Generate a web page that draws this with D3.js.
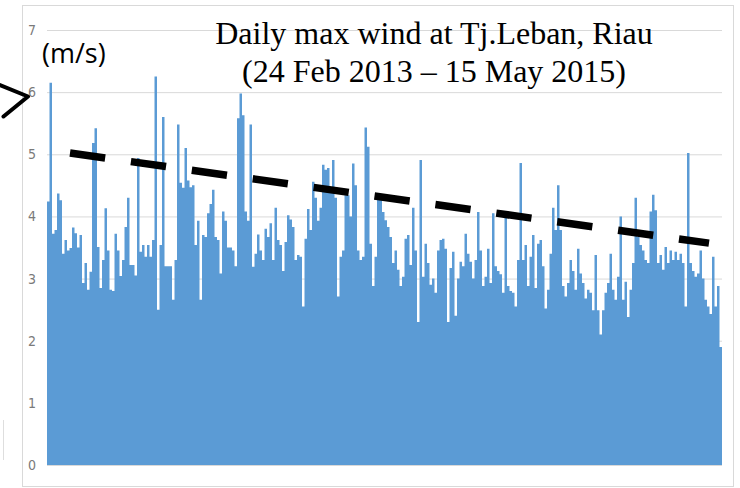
<!DOCTYPE html>
<html>
<head>
<meta charset="utf-8">
<script src="https://cdn.jsdelivr.net/npm/d3@7/dist/d3.min.js"></script>
<style>
  html, body { margin: 0; padding: 0; background: #ffffff; }
  svg { display: block; }
</style>
</head>
<body>
<svg id="chart" width="740" height="488"></svg>
<script>
// Daily max wind (m/s), one value per ~3 days
const windValues = [
  4.24, 6.15, 3.72, 3.78, 4.37, 4.26, 3.40, 3.62, 3.45, 3.49,
  3.82, 3.73, 3.50, 3.70, 2.93, 3.25, 2.82, 3.11, 5.18, 5.42,
  3.51, 2.85, 3.30, 4.13, 3.45, 2.82, 2.80, 3.72, 3.45, 3.04,
  3.30, 3.83, 4.30, 3.22, 3.22, 3.05, 4.94, 3.43, 3.54, 3.35,
  3.54, 3.35, 3.62, 6.25, 2.50, 3.54, 5.60, 3.20, 3.20, 3.20,
  2.66, 3.30, 5.48, 4.54, 4.46, 5.10, 4.58, 4.47, 4.50, 3.54,
  3.93, 2.66, 3.70, 3.67, 4.05, 4.20, 4.43, 3.67, 3.62, 3.08,
  4.08, 3.93, 3.50, 3.50, 3.45, 3.20, 5.58, 5.98, 5.63, 4.08,
  3.93, 5.48, 3.19, 3.40, 3.71, 3.45, 3.30, 3.80, 3.67, 3.89,
  3.30, 4.14, 3.62, 3.54, 3.12, 3.59, 4.02, 3.95, 3.83, 3.30,
  3.38, 3.35, 2.55, 3.64, 4.12, 3.78, 4.56, 4.30, 3.93, 4.14,
  4.83, 4.75, 4.78, 4.47, 4.91, 4.30, 2.71, 3.35, 3.45, 4.34,
  4.34, 4.00, 4.85, 4.50, 3.45, 3.30, 3.35, 5.43, 5.12, 3.56,
  2.88, 3.35, 4.34, 4.31, 4.07, 3.94, 3.83, 3.67, 3.25, 3.45,
  3.14, 2.88, 3.03, 3.64, 3.70, 3.22, 4.14, 3.45, 2.30, 4.91,
  3.03, 3.56, 3.25, 2.90, 3.00, 2.77, 3.45, 3.62, 3.64, 3.48,
  2.30, 3.17, 3.43, 2.40, 3.00, 3.27, 3.20, 3.72, 3.40, 3.27,
  3.00, 3.30, 4.07, 3.45, 2.88, 3.03, 3.48, 2.93, 4.05, 3.20,
  3.12, 3.07, 2.77, 4.00, 2.88, 2.80, 2.77, 2.55, 3.30, 4.86,
  3.30, 3.54, 2.88, 3.35, 3.70, 2.85, 3.56, 3.62, 3.20, 2.52,
  2.82, 3.40, 4.14, 3.78, 4.50, 3.78, 2.88, 2.71, 2.93, 3.30,
  3.12, 2.82, 3.48, 3.08, 2.93, 2.68, 2.82, 2.77, 2.49, 3.38,
  2.49, 2.10, 2.49, 2.77, 2.93, 3.40, 2.82, 2.66, 3.03, 4.00,
  2.66, 2.95, 2.38, 2.82, 3.25, 4.30, 3.67, 3.54, 3.45, 3.30,
  3.25, 4.08, 4.35, 4.10, 3.25, 3.38, 3.14, 3.51, 3.25, 3.45,
  3.30, 3.43, 3.30, 3.40, 3.25, 2.55, 5.02, 3.25, 3.12, 3.03,
  3.08, 3.45, 3.00, 2.66, 2.55, 2.43, 3.35, 2.55, 2.88, 1.90
];
const yTickValues = [0, 1, 2, 3, 4, 5, 6, 7];
// Hand-drawn trend line: positions along the series and wind values at its ends
const trendIndex = [9.2, 264.8];
const trendValue = [5.02, 3.57];
const titleLines = ["Daily max wind at Tj.Leban, Riau", "(24 Feb 2013 \u2013 15 May 2015)"];
const unitLabel = "(m/s)";

const svg = d3.select("#chart");

// outer chart frame
svg.append("rect")
  .attr("x", 22.5).attr("y", 5.5).attr("width", 711).attr("height", 481)
  .attr("fill", "#ffffff").attr("stroke", "#d9d9d9").attr("stroke-width", 1);

// faint mark at left edge
svg.append("line")
  .attr("x1", 3.5).attr("x2", 3.5).attr("y1", 420).attr("y2", 460)
  .attr("stroke", "#dedede").attr("stroke-width", 1);

const x = d3.scaleLinear().domain([0, windValues.length]).range([47, 722]);
const y = d3.scaleLinear().domain([0, 7]).range([465, 30]);

// gridlines
const grid = svg.append("g")
  .attr("transform", "translate(47,0)")
  .call(d3.axisLeft(y).tickValues(yTickValues).tickSize(-675).tickFormat(""));
grid.select(".domain").remove();
grid.selectAll(".tick line").attr("stroke", "#d9d9d9").attr("stroke-width", 1);

// tick labels
const axis = svg.append("g")
  .attr("transform", "translate(47,0)")
  .call(d3.axisLeft(y).tickValues(yTickValues).tickSize(0).tickPadding(11).tickFormat(d3.format("d")));
axis.select(".domain").remove();
axis.selectAll(".tick text")
  .attr("fill", "#7a7a7a")
  .style("font-family", "'Liberation Sans Narrow', 'DejaVu Sans Condensed', 'Liberation Sans', sans-serif")
  .style("font-size", "14px")
  .style("font-stretch", "condensed");

// area (daily columns)
const pts = windValues.map((v, i) => [i, v]);
pts.push([windValues.length, windValues[windValues.length - 1]]);
const area = d3.area()
  .x(d => x(d[0]))
  .y0(y(0))
  .y1(d => y(d[1]))
  .curve(d3.curveStepAfter);
svg.append("path")
  .datum(pts)
  .attr("d", area)
  .attr("fill", "#5b9bd5");

// dashed trend line
svg.append("line")
  .attr("x1", x(trendIndex[0])).attr("y1", y(trendValue[0]))
  .attr("x2", x(trendIndex[1])).attr("y2", y(trendValue[1]))
  .attr("stroke", "#000000").attr("stroke-width", 7.5)
  .attr("stroke-dasharray", "35.5,26");

// title
svg.append("text")
  .attr("x", 434).attr("y", 44)
  .attr("text-anchor", "middle")
  .style("font-family", "'Liberation Serif', 'Times New Roman', serif")
  .style("font-size", "32px")
  .attr("fill", "#000")
  .text(titleLines[0]);
svg.append("text")
  .attr("x", 434).attr("y", 81.5)
  .attr("text-anchor", "middle")
  .style("font-family", "'Liberation Serif', 'Times New Roman', serif")
  .style("font-size", "32px")
  .attr("fill", "#000")
  .text(titleLines[1]);

// unit label
svg.append("text")
  .attr("x", 42).attr("y", 63)
  .style("font-family", "'Open Sans', 'Noto Sans', sans-serif")
  .style("font-size", "27px")
  .attr("fill", "#000")
  .text(unitLabel);

// arrow pointing at the 6 tick
svg.append("path")
  .attr("d", "M0,85 L28,96.5 L3.5,116.5")
  .attr("fill", "none").attr("stroke", "#000").attr("stroke-width", 4)
  .attr("stroke-linecap", "round").attr("stroke-linejoin", "round");
</script>
</body>
</html>
